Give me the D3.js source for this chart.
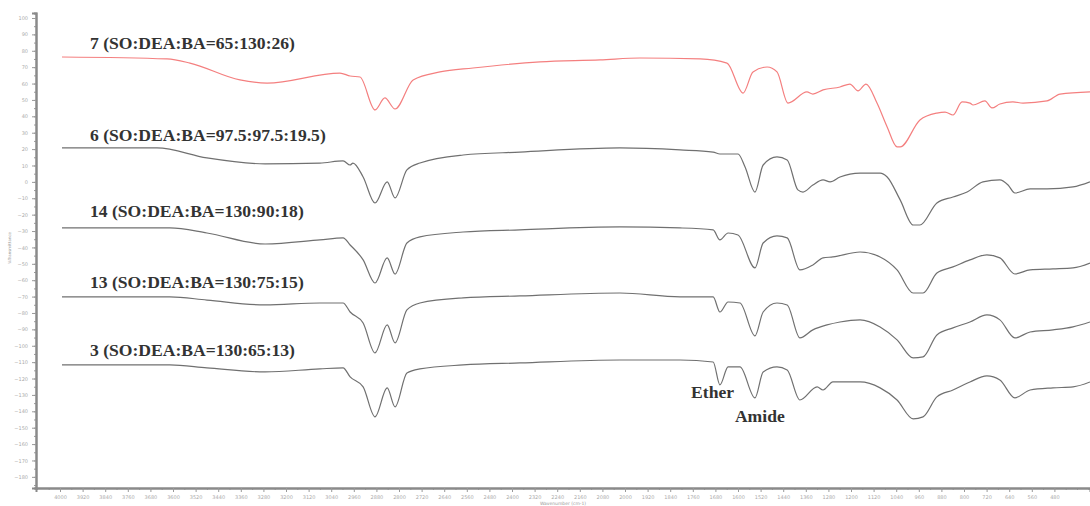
<!DOCTYPE html>
<html>
<head>
<meta charset="utf-8">
<script src="https://cdn.jsdelivr.net/npm/d3@7"></script>
<style>
  body { margin: 0; background: #fff; }
  svg { display: block; }
</style>
</head>
<body>
<div id="chart"></div>
<script>
// FTIR spectra, stacked

// x ticks (wavenumber) and y ticks (%T)
var xTicks = d3.range(4000, 479, -80);
var yTicks = d3.range(100, -181, -10);

// series names
var seriesNames = [
  "7 (SO:DEA:BA=65:130:26)",
  "6 (SO:DEA:BA=97.5:97.5:19.5)",
  "14 (SO:DEA:BA=130:90:18)",
  "13 (SO:DEA:BA=130:75:15)",
  "3 (SO:DEA:BA=130:65:13)"
];

// [wavenumber, %T]
var s7 = [[3993,76.2],[3621,75.0],[3540,72.5],[3363,62.2],[3267,60.3],[3009,66.4],[2973,64.6],[2938,64.0],
  [2885,43.9],[2850,51.2],[2814,44.5],[2750,62.2],[2655,67.1],[2538,69.5],[2301,73.2],[2088,74.4],[1947,75.6],
  [1734,75.0],[1639,72.5],[1582,54.2],[1547,67.1],[1497,70.1],[1462,67.1],[1423,48.1],[1356,54.9],[1335,53.6],
  [1299,56.1],[1239,57.9],[1204,59.7],[1175,55.5],[1147,59.7],[1108,48.1],[1072,33.5],[1037,21.3],[1026,21.3],
  [956,37.8],[896,42.0],[867,42.6],[839,40.8],[807,48.8],[779,48.1],[768,46.9],[726,49.4],[701,45.1],[673,47.5],
  [627,48.8],[591,48.1],[506,49.4],[460,53.6],[354,54.9]];

var s6 = [[3993,20.7],[3657,20.7],[3480,14.6],[3274,11.0],[3080,11.5],[2998,12.8],[2973,10.3],[2963,11.5],
  [2927,3.0],[2885,-12.9],[2842,0.0],[2814,-9.8],[2772,7.3],[2726,11.5],[2573,16.4],[2372,18.2],[2018,20.7],
  [1805,19.5],[1688,18.2],[1664,17.0],[1600,17.0],[1575,9.1],[1540,-6.2],[1511,10.3],[1462,15.2],[1426,13.4],
  [1388,-4.9],[1370,-6.2],[1335,-1.9],[1299,1.2],[1274,0.0],[1239,3.0],[1168,5.4],[1133,5.4],[1097,5.4],
  [1072,3.0],[1026,-11.0],[980,-26.3],[956,-26.3],[896,-12.9],[839,-9.2],[789,-6.2],[733,0.0],[673,1.2],
  [644,-1.9],[620,-6.8],[566,-4.3],[506,-4.3],[414,-3.1],[354,0.0]];

var s14 = [[3993,-28.1],[3611,-28.1],[3480,-31.2],[3274,-37.9],[3080,-35.4],[2998,-34.2],[2973,-38.5],
  [2927,-47.6],[2885,-61.7],[2842,-46.4],[2814,-56.2],[2772,-37.3],[2726,-33.6],[2573,-30.6],[2372,-29.3],
  [2018,-27.5],[1805,-28.1],[1688,-29.3],[1664,-35.4],[1635,-31.2],[1600,-32.4],[1540,-52.5],[1511,-37.3],
  [1462,-33.0],[1426,-34.2],[1381,-53.7],[1335,-50.7],[1299,-46.4],[1264,-45.8],[1168,-42.8],[1097,-45.8],
  [1037,-53.7],[980,-67.8],[945,-67.8],[896,-55.6],[839,-51.9],[779,-47.6],[719,-44.6],[673,-46.4],
  [620,-56.2],[566,-53.7],[485,-53.1],[414,-52.5],[354,-49.5]];

var s13 = [[3993,-70.2],[3611,-70.2],[3480,-72.1],[3274,-75.1],[3080,-73.9],[2998,-73.9],[2973,-79.4],
  [2927,-86.1],[2885,-104.4],[2842,-87.3],[2814,-98.3],[2772,-78.1],[2726,-73.9],[2573,-70.8],[2372,-69.6],
  [2018,-67.8],[1805,-70.2],[1688,-70.2],[1664,-79.4],[1635,-73.3],[1593,-73.9],[1540,-94.0],[1511,-79.4],
  [1462,-73.9],[1426,-75.1],[1381,-95.2],[1335,-90.3],[1285,-87.3],[1239,-85.5],[1168,-84.2],[1097,-88.5],
  [1037,-96.4],[980,-107.4],[945,-106.8],[896,-93.4],[839,-89.1],[779,-85.5],[719,-81.2],[673,-84.2],
  [620,-95.2],[566,-91.6],[485,-90.3],[414,-88.5],[354,-85.5]];

var s3 = [[3993,-111.7],[3611,-111.7],[3480,-113.5],[3274,-116.0],[3080,-114.1],[2998,-113.5],[2973,-119.0],
  [2927,-125.1],[2885,-143.4],[2842,-125.7],[2814,-137.3],[2772,-116.6],[2726,-114.1],[2573,-111.7],
  [2372,-110.5],[2018,-108.7],[1805,-108.7],[1688,-109.9],[1664,-123.9],[1635,-112.9],[1593,-112.9],
  [1540,-131.8],[1511,-116.0],[1462,-112.9],[1426,-114.8],[1381,-133.1],[1320,-125.1],[1299,-127.0],
  [1264,-122.1],[1168,-122.1],[1097,-125.7],[1037,-133.1],[980,-144.6],[945,-143.4],[896,-131.2],
  [839,-127.0],[779,-122.1],[719,-118.4],[673,-120.9],[620,-131.8],[566,-127.0],[485,-125.7],[414,-125.1],
  [354,-122.1]];

var allSeries = [s7, s6, s14, s13, s3];
var seriesColors = ["#f47f7f", "#707070", "#707070", "#707070", "#707070"];

// label anchors [wavenumber, %T]
var labelAnchors = [[3894,81.1],[3894,25.0],[3894,-21.4],[3894,-64.7],[3894,-106.2]];
var peakNotes = ["Ether", "Amide"];
var peakAnchors = [[1766,-131.8],[1611,-146.5]];

// svg
var svgWidth = 1090;
var svgHeight = 506;
var margin = {top: 13, right: 0, bottom: 18, left: 36};
var width = svgWidth - margin.left - margin.right;
var height = svgHeight - margin.top - margin.bottom;

var svg = d3.select("#chart")
  .append("svg")
  .attr("width", svgWidth)
  .attr("height", svgHeight);

var chartGroup = svg.append("g")
  .attr("transform", `translate(${margin.left}, ${margin.top})`);

var xScale = d3.scaleLinear()
  .domain([4085, 354])
  .range([0, width]);

var yScale = d3.scaleLinear()
  .domain([103.05, -186.8])
  .range([0, height]);

// axes
var xAxis = d3.axisBottom(xScale).tickValues(xTicks).tickSize(4).tickPadding(3).tickFormat(d3.format("d"));
var xMinor = d3.axisBottom(xScale).tickValues(d3.range(4040, 354, -40)).tickSize(2).tickFormat("");
var yAxis = d3.axisLeft(yScale).tickValues(yTicks).tickSize(4).tickPadding(4);
var yMinor = d3.axisLeft(yScale).tickValues(d3.range(95, -186, -5)).tickSize(2).tickFormat("");

function styleAxis(g) {
  g.select(".domain").attr("stroke", "#8a8a8a").attr("stroke-width", 2);
  g.selectAll(".tick line").attr("stroke", "#9a9a9a");
  g.selectAll(".tick text").attr("fill", "#aaa").attr("font-size", "5px")
    .attr("font-family", "DejaVu Sans");
}

chartGroup.append("g").attr("transform", `translate(0, ${height})`).call(xMinor).call(styleAxis);
chartGroup.append("g").attr("transform", `translate(0, ${height})`).call(xAxis).call(styleAxis);
chartGroup.append("g").call(yMinor).call(styleAxis);
chartGroup.append("g").call(yAxis).call(styleAxis);

// lines
var line = d3.line()
  .x(d => xScale(d[0]))
  .y(d => yScale(d[1]))
  .curve(d3.curveMonotoneX);

chartGroup.selectAll(".spec")
  .data(allSeries)
  .enter()
  .append("path")
  .attr("class", "spec")
  .attr("d", line)
  .attr("fill", "none")
  .attr("stroke", (d, i) => seriesColors[i])
  .attr("stroke-width", 1.2);

// series labels
chartGroup.selectAll(".lbl")
  .data(seriesNames)
  .enter()
  .append("text")
  .attr("class", "lbl")
  .attr("x", (d, i) => xScale(labelAnchors[i][0]))
  .attr("y", (d, i) => yScale(labelAnchors[i][1]))
  .text(d => d)
  .attr("font-family", "Liberation Serif")
  .attr("font-weight", "bold")
  .attr("font-size", "17.6px")
  .attr("fill", "#333");

chartGroup.selectAll(".note")
  .data(peakNotes)
  .enter()
  .append("text")
  .attr("class", "note")
  .attr("x", (d, i) => xScale(peakAnchors[i][0]))
  .attr("y", (d, i) => yScale(peakAnchors[i][1]))
  .text(d => d)
  .attr("font-family", "Liberation Serif")
  .attr("font-weight", "bold")
  .attr("font-size", "17.6px")
  .attr("fill", "#333");

// axis titles
svg.append("text")
  .attr("transform", "translate(11, 248) rotate(-90)")
  .attr("text-anchor", "middle")
  .attr("font-family", "DejaVu Sans")
  .attr("font-size", "4px")
  .attr("fill", "#999")
  .text("%Transmittance");

svg.append("text")
  .attr("x", 563)
  .attr("y", 505)
  .attr("text-anchor", "middle")
  .attr("font-family", "DejaVu Sans")
  .attr("font-size", "4.5px")
  .attr("fill", "#999")
  .text("Wavenumber (cm-1)");
</script>
</body>
</html>
